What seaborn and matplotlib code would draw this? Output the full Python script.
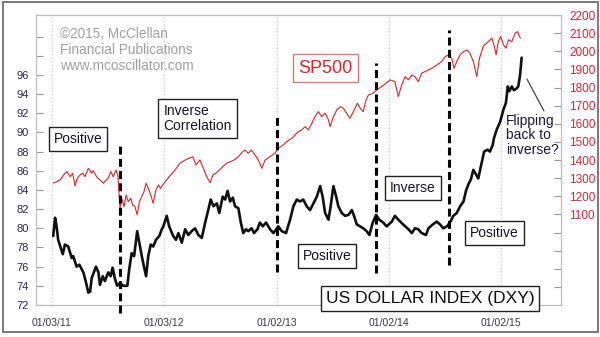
import matplotlib
matplotlib.use("Agg")
import matplotlib.pyplot as plt
import pandas as pd
import seaborn as sns
from matplotlib.patches import Rectangle

# ---------------- data ----------------
dxy_dates = [
    # 2011
    "2011-01-07", "2011-01-13", "2011-01-18", "2011-01-23", "2011-01-31",
    "2011-02-07", "2011-02-14", "2011-02-25",
    "2011-03-08", "2011-03-13", "2011-03-24",
    "2011-04-02", "2011-04-10", "2011-04-15", "2011-04-24",
    "2011-05-01", "2011-05-07", "2011-05-12", "2011-05-20", "2011-05-26",
    "2011-06-03", "2011-06-08", "2011-06-17", "2011-06-24",
    "2011-07-05", "2011-07-13", "2011-07-19", "2011-07-27",
    "2011-08-03", "2011-08-12", "2011-08-23",
    "2011-09-05", "2011-09-11", "2011-09-19", "2011-09-27",
    "2011-10-07", "2011-10-14", "2011-10-22", "2011-10-29",
    "2011-11-05", "2011-11-12", "2011-11-20", "2011-11-28",
    "2011-12-07", "2011-12-18", "2011-12-26", "2011-12-31",
    # 2012
    "2012-01-11", "2012-01-19",
    "2012-02-01", "2012-02-10", "2012-02-18", "2012-02-29",
    "2012-03-11", "2012-03-21",
    "2012-04-01", "2012-04-12", "2012-04-23",
    "2012-05-04", "2012-05-15", "2012-05-25",
    "2012-06-02", "2012-06-11", "2012-06-22", "2012-06-30",
    "2012-07-11", "2012-07-19", "2012-07-27",
    "2012-08-04", "2012-08-13", "2012-08-20", "2012-08-31",
    "2012-09-08", "2012-09-16", "2012-09-25",
    "2012-10-02", "2012-10-13", "2012-10-21",
    "2012-11-01", "2012-11-09", "2012-11-18", "2012-11-29",
    "2012-12-12", "2012-12-23",
    # 2013
    "2013-01-08", "2013-01-19",
    "2013-02-02", "2013-02-15", "2013-02-26",
    "2013-03-09", "2013-03-19", "2013-03-30",
    "2013-04-10", "2013-04-21",
    "2013-05-02", "2013-05-13", "2013-05-24",
    "2013-06-01", "2013-06-09", "2013-06-20", "2013-06-27",
    "2013-07-06", "2013-07-15", "2013-07-22",
    "2013-08-02", "2013-08-13", "2013-08-24",
    "2013-09-04", "2013-09-11", "2013-09-20",
    "2013-10-01", "2013-10-11", "2013-10-22", "2013-10-31",
    "2013-11-11", "2013-11-22",
    "2013-12-02", "2013-12-15", "2013-12-26",
    # 2014
    "2014-01-12", "2014-01-22",
    "2014-02-02", "2014-02-18",
    "2014-03-07", "2014-03-18", "2014-03-28",
    "2014-04-08", "2014-04-19",
    "2014-05-03", "2014-05-11", "2014-05-25",
    "2014-06-07", "2014-06-18", "2014-06-28",
    "2014-07-10", "2014-07-20", "2014-07-31",
    "2014-08-11", "2014-08-22",
    "2014-09-02", "2014-09-10", "2014-09-18", "2014-09-26",
    "2014-10-04", "2014-10-13", "2014-10-20", "2014-10-31",
    "2014-11-08", "2014-11-19", "2014-11-27",
    "2014-12-06", "2014-12-10", "2014-12-19", "2014-12-30",
    # 2015
    "2015-01-10", "2015-01-18", "2015-01-24", "2015-01-29",
    "2015-02-06", "2015-02-13", "2015-02-22", "2015-02-27",
    "2015-03-05", "2015-03-10",
]
dxy_values = [
    # 2011
    79.2, 81.1, 80.2, 78.8, 78.0,
    77.3, 78.3, 78.1,
    76.9, 77.1, 76.0,
    76.2, 75.7, 75.4, 74.3,
    73.3, 73.4, 74.8, 75.5, 76.0,
    75.4, 74.1, 75.0, 74.5,
    75.4, 75.0, 75.9, 74.7,
    74.0, 74.3, 74.0,
    74.0, 75.7, 77.4, 77.1,
    79.7, 78.5, 77.1, 76.0,
    75.0, 77.1, 78.3, 78.1,
    78.8, 79.2, 79.9, 80.2,
    # 2012
    81.3, 80.2,
    79.2, 78.8, 79.5, 78.5,
    79.9, 79.3,
    79.7, 80.0, 79.3,
    79.0, 80.6, 81.9,
    83.0, 82.3, 82.6, 81.6,
    83.3, 83.0, 83.9,
    82.8, 83.2, 82.3, 82.1,
    80.6, 79.5, 79.9,
    79.7, 80.0, 79.5,
    79.9, 80.6, 80.2, 80.6,
    79.9, 79.5,
    # 2013
    80.2, 79.7,
    79.5, 80.9, 82.3,
    83.0, 82.8, 83.0,
    82.3, 81.9,
    82.6, 83.3, 84.4,
    83.3, 81.6, 80.9, 82.3,
    84.4, 83.3, 82.3,
    81.6, 81.3, 81.4,
    81.9, 81.3, 80.4,
    80.2, 80.0, 79.7, 79.3,
    80.6, 81.4,
    80.9, 80.6, 80.2,
    # 2014
    80.7, 81.3,
    80.9, 80.4,
    79.9, 79.5, 80.0,
    79.9, 79.5,
    79.3, 80.0, 80.4,
    80.7, 80.4, 80.0,
    80.2, 80.6, 81.3,
    81.6, 82.3,
    82.8, 83.9, 84.6, 85.1,
    86.1, 85.6, 85.2, 86.8,
    88.0, 88.2, 88.0,
    88.7, 89.4, 90.3, 91.1,
    # 2015
    92.4, 93.1, 94.8, 94.3,
    94.8, 94.4, 94.6, 94.8,
    96.0, 97.8,
]

spx_dates = [
    # 2011
    "2011-01-07", "2011-01-18", "2011-01-29",
    "2011-02-09", "2011-02-20",
    "2011-03-03", "2011-03-11", "2011-03-19", "2011-03-26",
    "2011-04-04", "2011-04-13", "2011-04-20",
    "2011-05-01", "2011-05-12", "2011-05-17", "2011-05-28",
    "2011-06-08", "2011-06-19", "2011-06-28",
    "2011-07-05", "2011-07-13", "2011-07-21", "2011-07-30",
    "2011-08-05", "2011-08-09", "2011-08-12", "2011-08-18", "2011-08-25",
    "2011-09-01", "2011-09-08", "2011-09-16", "2011-09-22", "2011-09-30",
    "2011-10-07", "2011-10-14", "2011-10-22", "2011-10-29",
    "2011-11-05", "2011-11-12", "2011-11-20", "2011-11-28",
    "2011-12-07", "2011-12-15", "2011-12-22",
    # 2012
    "2012-01-02", "2012-01-11", "2012-01-19",
    "2012-02-07", "2012-02-23",
    "2012-03-11", "2012-03-25",
    "2012-04-05", "2012-04-15", "2012-04-28",
    "2012-05-09", "2012-05-20", "2012-05-31",
    "2012-06-09", "2012-06-19", "2012-06-30",
    "2012-07-11", "2012-07-24",
    "2012-08-06", "2012-08-17", "2012-08-31",
    "2012-09-14", "2012-09-22",
    "2012-10-02", "2012-10-13", "2012-10-24",
    "2012-11-04", "2012-11-15", "2012-11-26",
    "2012-12-12", "2012-12-28",
    # 2013
    "2013-01-08", "2013-01-24",
    "2013-02-04", "2013-02-21",
    "2013-03-03", "2013-03-14", "2013-03-25",
    "2013-04-05", "2013-04-16", "2013-04-27",
    "2013-05-07", "2013-05-18", "2013-05-29",
    "2013-06-09", "2013-06-20", "2013-06-25",
    "2013-07-06", "2013-07-17", "2013-07-28",
    "2013-08-07", "2013-08-18", "2013-08-29",
    "2013-09-09", "2013-09-22",
    "2013-10-01", "2013-10-11", "2013-10-20", "2013-10-28",
    "2013-11-11", "2013-11-24",
    "2013-12-10", "2013-12-24",
    # 2014
    "2014-01-06", "2014-01-22",
    "2014-02-02", "2014-02-13", "2014-02-24",
    "2014-03-07", "2014-03-18", "2014-03-28",
    "2014-04-08", "2014-04-19", "2014-04-30",
    "2014-05-11", "2014-05-22",
    "2014-06-07", "2014-06-23",
    "2014-07-04", "2014-07-15", "2014-07-26",
    "2014-08-02", "2014-08-11", "2014-08-22",
    "2014-09-02", "2014-09-13", "2014-09-23",
    "2014-10-04", "2014-10-15", "2014-10-24",
    "2014-11-06", "2014-11-22",
    "2014-12-03", "2014-12-10", "2014-12-17", "2014-12-24",
    # 2015
    "2015-01-01", "2015-01-10", "2015-01-18", "2015-01-26",
    "2015-02-06", "2015-02-17", "2015-02-25",
    "2015-03-03", "2015-03-06",
]
spx_values = [
    # 2011
    1272, 1280, 1290,
    1317, 1336,
    1308, 1327, 1257, 1299,
    1317, 1327, 1308,
    1354, 1327, 1341, 1308,
    1290, 1272, 1290,
    1299, 1336, 1308, 1345,
    1317, 1207, 1134, 1189, 1142,
    1207, 1170, 1189, 1152, 1142,
    1097, 1170, 1198, 1225,
    1272, 1244, 1207, 1161,
    1235, 1262, 1244,
    # 2012
    1272, 1290, 1308,
    1345, 1382,
    1400, 1410,
    1418, 1373, 1400,
    1354, 1308, 1275,
    1317, 1327, 1345,
    1363, 1382,
    1391, 1400, 1418,
    1446, 1455,
    1437, 1455, 1428,
    1400, 1354, 1400,
    1418, 1437,
    # 2013
    1465, 1483,
    1501, 1520,
    1538, 1556, 1566,
    1584, 1566, 1603,
    1639, 1667, 1639,
    1658, 1621, 1584,
    1639, 1676, 1694,
    1686, 1658, 1630,
    1667, 1713,
    1686, 1667, 1731, 1759,
    1768, 1787,
    1805, 1823,
    # 2014
    1842, 1832,
    1750, 1814, 1860,
    1842, 1869, 1860,
    1832, 1879, 1888,
    1897, 1906,
    1924, 1943,
    1970, 1980, 1961,
    1906, 1943, 1980,
    1998, 2007, 1989,
    1943, 1860, 1961,
    2030, 2053,
    2072, 2035, 1980, 2053,
    # 2015
    2081, 2035, 2017, 2063,
    2053, 2100, 2108,
    2081, 2072,
]

regime_breaks = ["2011-08-12", "2013-01-02", "2013-11-21", "2014-07-18"]
x_tick_dates = ["2011-01-03", "2012-01-03", "2013-01-02", "2014-01-02", "2015-01-02"]
dxy_ticks = list(range(72, 101, 2))
spx_ticks = list(range(700, 2201, 100))

dxy = pd.DataFrame({"date": pd.to_datetime(dxy_dates), "value": dxy_values})
spx = pd.DataFrame({"date": pd.to_datetime(spx_dates), "value": spx_values})

# ---------------- style ----------------
sns.set_style("white")
plt.rcParams["font.family"] = ["Liberation Sans", "DejaVu Sans"]

W, H = 600, 337
fig = plt.figure(figsize=(W / 100, H / 100), dpi=100)
fig.patch.set_facecolor("white")
ax = fig.add_axes([36 / W, 1 - 305 / H, 525 / W, 290 / H])
ax2 = ax.twinx()

# ---------------- lines ----------------
sns.lineplot(data=dxy, x="date", y="value", ax=ax, color="#111111",
             linewidth=1.9, estimator=None)
sns.lineplot(data=spx, x="date", y="value", ax=ax2, color="#d8262c",
             linewidth=0.8, estimator=None)

ax.set_xlim(pd.Timestamp("2010-11-12"), pd.Timestamp("2015-07-16"))
ax.set_ylim(72, 102.25)
ax2.set_ylim(600, 2200)

for a in (ax, ax2):
    a.set_xlabel("")
    a.set_ylabel("")
    for s in a.spines.values():
        s.set_color("#bdbdbd")
        s.set_linewidth(0.8)

# x axis
xt = pd.to_datetime(x_tick_dates)
ax.set_xticks(xt)
ax.set_xticklabels([d.strftime("%m/%d/%y") for d in xt])
ax.tick_params(axis="x", length=0, pad=9, labelsize=7.5, labelcolor="#3a3a48")
ax.xaxis.grid(True, color="#c3c6d6", linestyle=(0, (1, 2)), linewidth=0.8)
ax.yaxis.grid(False)
ax2.grid(False)

# left axis (dollar index)
ax.set_yticks(dxy_ticks)
ax.set_yticklabels([str(v) if v <= 96 else "" for v in dxy_ticks])
ax.tick_params(axis="y", direction="in", length=5, width=0.8, color="#9a9a9a",
               labelsize=8, labelcolor="#2a2a44", pad=5)

# right axis (S&P 500)
ax2.set_yticks(spx_ticks)
ax2.set_yticklabels([str(v) if v >= 1100 else "" for v in spx_ticks])
ax2.tick_params(axis="y", direction="in", length=5, width=0.8, color="#9a9a9a",
                labelsize=8.5, labelcolor="#d8263a", pad=6)

# regime boundaries: dashed verticals, vertical extent in axes fraction
dash_spans = [(-0.028, 0.562), (0.114, 0.648), (0.110, 0.834), (0.138, 0.948)]
for d, (y0, y1) in zip(regime_breaks, dash_spans):
    ax2.axvline(pd.Timestamp(d), ymin=y0, ymax=y1, color="black", linewidth=2.2,
                dashes=(2.6, 1.4), clip_on=False, zorder=5)

# ---------------- text ----------------
ax2.text(0.0457, 0.9586, "\u00a92015, McClellan\nFinancial Publications\nwww.mcoscillator.com",
         transform=ax2.transAxes, ha="left", va="top", fontsize=9.8,
         color="#a0a0a0", linespacing=1.18)

box = dict(boxstyle="square,pad=0.35", facecolor="white", edgecolor="#222222", linewidth=1)
label_kw = dict(transform=ax2.transAxes, ha="center", va="center", fontsize=10,
                color="#151520", bbox=box, zorder=6)

ax2.text(0.080, 0.572, "Positive", **label_kw)
ax2.text(0.3076, 0.643, "Inverse\nCorrelation", multialignment="left",
         linespacing=1.15, **label_kw)
ax2.text(0.554, 0.169, "Positive", **label_kw)
ax2.text(0.718, 0.403, "Inverse", **label_kw)
ax2.text(0.873, 0.248, "Positive", **label_kw)

ax2.text(0.552, 0.817, "SP500", transform=ax2.transAxes, ha="center", va="center",
         fontsize=13, color="#d8262c", zorder=6,
         bbox=dict(boxstyle="square,pad=0.3", facecolor="white",
                   edgecolor="#e07a7a", linewidth=1))

ax2.text(0.751, 0.023, "US DOLLAR INDEX (DXY)", transform=ax2.transAxes,
         ha="center", va="center", fontsize=12.5, color="#111111", zorder=6,
         bbox=dict(boxstyle="square,pad=0.28", facecolor="white",
                   edgecolor="#222222", linewidth=1))

ax2.text(0.895, 0.586, "Flipping\nback to\ninverse?", transform=ax2.transAxes,
         ha="left", va="center", fontsize=10, color="#1a1a3a", linespacing=1.05,
         zorder=6)
ax2.plot([0.9676, 0.9352], [0.669, 0.779], transform=ax2.transAxes,
         color="#333333", linewidth=0.8, clip_on=False, zorder=6)

# outer frame
fig.patches.append(Rectangle((3 / W, 5 / H), 594.5 / W, 330.5 / H,
                             transform=fig.transFigure, fill=False,
                             edgecolor="#7a7a7a", linewidth=1.4))

fig.savefig("out.png", dpi=100)
